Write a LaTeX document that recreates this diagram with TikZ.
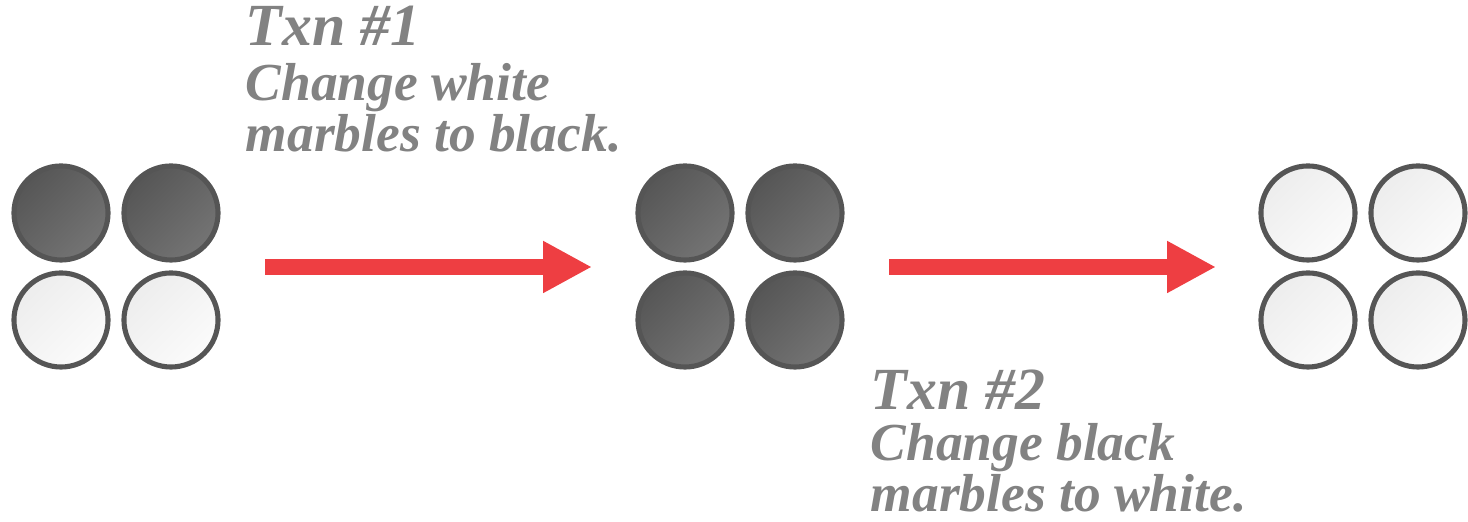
\documentclass[tikz,border=0pt]{standalone}
\usepackage{fontspec}
\setmainfont{Liberation Serif}
\usetikzlibrary{arrows.meta}
\usetikzlibrary{positioning}

\definecolor{rim}{HTML}{555555}
\definecolor{darktop}{HTML}{565656}
\definecolor{darkbot}{HTML}{747474}
\definecolor{lighttop}{HTML}{EDEDED}
\definecolor{lightbot}{HTML}{FBFBFB}
\definecolor{note}{HTML}{828282}
\definecolor{go}{HTML}{EE3E42}

\tikzset{
  marble/.style={circle, draw=rim, line width=1.45pt, minimum size=0.94cm, inner sep=0pt},
  black marble/.style={marble, top color=darktop, bottom color=darkbot, shading angle=45},
  white marble/.style={marble, top color=lighttop, bottom color=lightbot, shading angle=45},
  move/.style={go, line width=4.6pt, -{Triangle[length=13.9pt, width=13.8pt]}},
  head/.style={note, anchor=base west, inner sep=0pt, text depth=0pt, font=\fontsize{17pt}{17pt}\selectfont\bfseries\itshape},
  % base of a two-line node sits on its last line
  body/.style={note, anchor=base west, inner sep=0pt, align=left, font=\fontsize{15.2pt}{13.7pt}\selectfont\bfseries\itshape}
}

\begin{document}
\begin{tikzpicture}[x=0.01cm, y=-0.01cm]

  \useasboundingbox (0,0) rectangle (1468,522);

  \def\dx{110};
  \def\dy{107};

  % before: two black on top, two white below
  \foreach \i/\kind/\name in {0/black/a1,1/black/a2} {
    \node[\kind\space marble] (\name) at (61+\i*\dx, 213) {};
  }
  \foreach \i/\kind/\name in {0/white/a3,1/white/a4} {
    \node[\kind\space marble] (\name) at (61+\i*\dx, 213+\dy) {};
  }

  % after txn 1: all black
  \foreach \i/\j/\name in {0/0/b1,1/0/b2,0/1/b3,1/1/b4} {
    \node[black marble] (\name) at (685+\i*\dx, 213+\j*\dy) {};
  }

  % after txn 2: all white
  \foreach \i/\j/\name in {0/0/c1,1/0/c2,0/1/c3,1/1/c4} {
    \node[white marble] (\name) at (1308+\i*\dx, 213+\j*\dy) {};
  }

  \coordinate (t1s) at (265, 267);
  \coordinate (t1e) at (592, 267);
  \coordinate (t2s) at (889, 267);
  \coordinate (t2e) at (1216, 267);

  \draw[move] (t1s) -- (t1e);
  \draw[move] (t2s) -- (t2e);

  \node[head] (txn1) at (245, 46) {Txn \#1};
  \node[body] (txn1d) at (245, 152) {Change white\\marbles to black.};

  \node[head] (txn2) at (870, 410) {Txn \#2};
  \node[body] (txn2d) at (870, 512) {Change black\\marbles to white.};

\end{tikzpicture}
\end{document}
